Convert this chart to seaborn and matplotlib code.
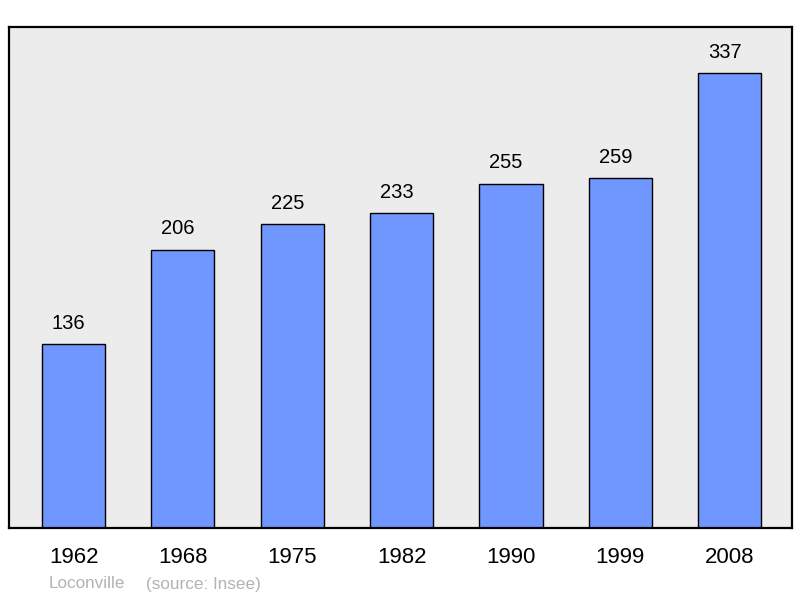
import matplotlib.pyplot as plt
import seaborn as sns
import pandas as pd

YEARS = ["1962", "1968", "1975", "1982", "1990", "1999", "2008"]
POPULATION = [136, 206, 225, 233, 255, 259, 337]
TOWN_NAME = "Loconville"
SOURCE_TEXT = "(source: Insee)"

BAR_COLOR = "#7096ff"
BACKGROUND_COLOR = "#ececec"

sns.set_style("white")
plt.rcParams["font.family"] = ["Liberation Sans", "DejaVu Sans"]
plt.rcParams["text.color"] = "black"
plt.rcParams["xtick.color"] = "black"

frame = pd.DataFrame({"Year": YEARS, "Population": POPULATION})

figure = plt.figure(figsize=(8, 5.98), dpi=100)
axes = figure.add_axes([0.01125, 0.117, 0.97875, 0.838])
axes.set_facecolor(BACKGROUND_COLOR)

sns.barplot(
    data=frame,
    x="Year",
    y="Population",
    color=BAR_COLOR,
    saturation=1,
    width=0.577,
    edgecolor="black",
    linewidth=1,
    ax=axes,
)

# value labels sit a little left of the bar centre, as in the original
for index, value in enumerate(POPULATION):
    axes.annotate(
        str(value),
        xy=(index, value),
        xytext=(-3.6, 15),
        textcoords="offset points",
        ha="center",
        va="center",
        fontsize=14.5,
        color="black",
    )

axes.set_xlim(-0.59, 6.57)
axes.set_ylim(0, 371)
axes.set_yticks([])
axes.set_xlabel("")
axes.set_ylabel("")
axes.tick_params(axis="x", length=0, labelsize=16, pad=14, labelcolor="black")

for spine in axes.spines.values():
    spine.set_visible(True)
    spine.set_color("black")
    spine.set_linewidth(1.6)

figure.text(49 / 800, 1 - 584 / 598, TOWN_NAME, color="#b3b3b3",
            fontsize=12.3, ha="left", va="center")
figure.text(146 / 800, 1 - 584 / 598, SOURCE_TEXT, color="#b3b3b3",
            fontsize=12.3, ha="left", va="center")

figure.savefig("out.png", dpi=100, facecolor="white")
